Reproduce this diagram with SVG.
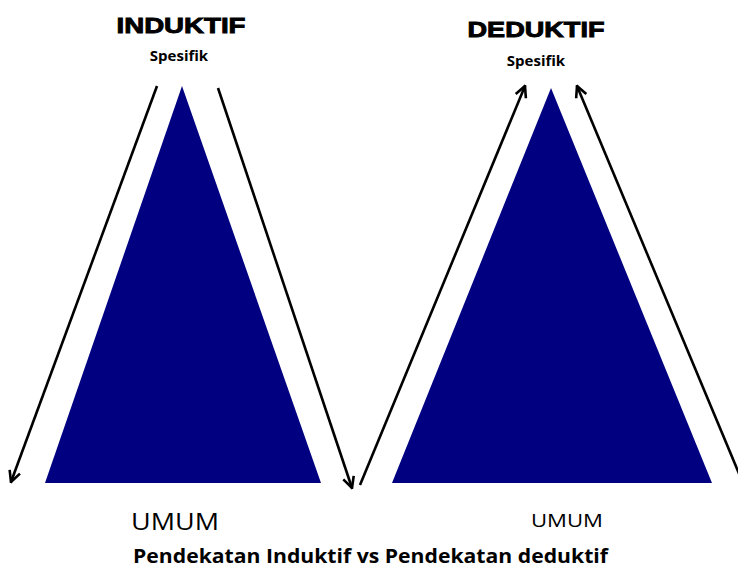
<svg xmlns="http://www.w3.org/2000/svg" width="738" height="574" viewBox="0 0 738 574">
<defs>
<marker id="ah" viewBox="0 0 14 14" refX="12.5" refY="7" markerWidth="14" markerHeight="14" markerUnits="userSpaceOnUse" orient="auto">
<path d="M1.5,1.5 L12.5,7 L1.5,12.5" fill="none" stroke="#000" stroke-width="2.6"/>
</marker>
<style>
.tri{fill:#000080;}
.con{stroke:#000;stroke-width:2.6;fill:none;marker-end:url(#ah);}
.h{font-family:"Liberation Sans",Arial,sans-serif;font-weight:bold;fill:#000;stroke:#000;stroke-width:0.9;}
.s{font-family:"Open Sans","Liberation Sans",sans-serif;font-weight:bold;fill:#000;}
.u{font-family:"Open Sans","Liberation Sans",sans-serif;fill:#000;}
</style>
</defs>
<rect width="738" height="574" fill="#fff"/>
<g id="induktif">
<polygon class="tri" points="182,86 321,483 45,483"/>
<text class="h" x="181" y="33" font-size="22" text-anchor="middle" textLength="129" lengthAdjust="spacingAndGlyphs">INDUKTIF</text>
<text class="s" x="179" y="61" font-size="15" text-anchor="middle">Spesifik</text>
<text class="u" x="131" y="530" font-size="23" textLength="88" lengthAdjust="spacingAndGlyphs">UMUM</text>
</g>
<g id="deduktif">
<polygon class="tri" points="551,88 712,483 392,483"/>
<text class="h" x="536" y="37" font-size="22" text-anchor="middle" textLength="137" lengthAdjust="spacingAndGlyphs">DEDUKTIF</text>
<text class="s" x="536" y="66" font-size="15" text-anchor="middle">Spesifik</text>
<text class="u" x="531" y="527" font-size="18" textLength="72" lengthAdjust="spacingAndGlyphs">UMUM</text>
</g>
<g id="caption">
<text class="s" x="133" y="563" font-size="19" textLength="475" lengthAdjust="spacingAndGlyphs">Pendekatan Induktif vs Pendekatan deduktif</text>
</g>
<g id="connectors">
<line class="con" x1="157" y1="86" x2="11" y2="482"/>
<line class="con" x1="218" y1="88" x2="352" y2="488"/>
<line class="con" x1="360" y1="485" x2="525" y2="86"/>
<line class="con" x1="740" y1="476" x2="577" y2="86"/>
</g>
</svg>
